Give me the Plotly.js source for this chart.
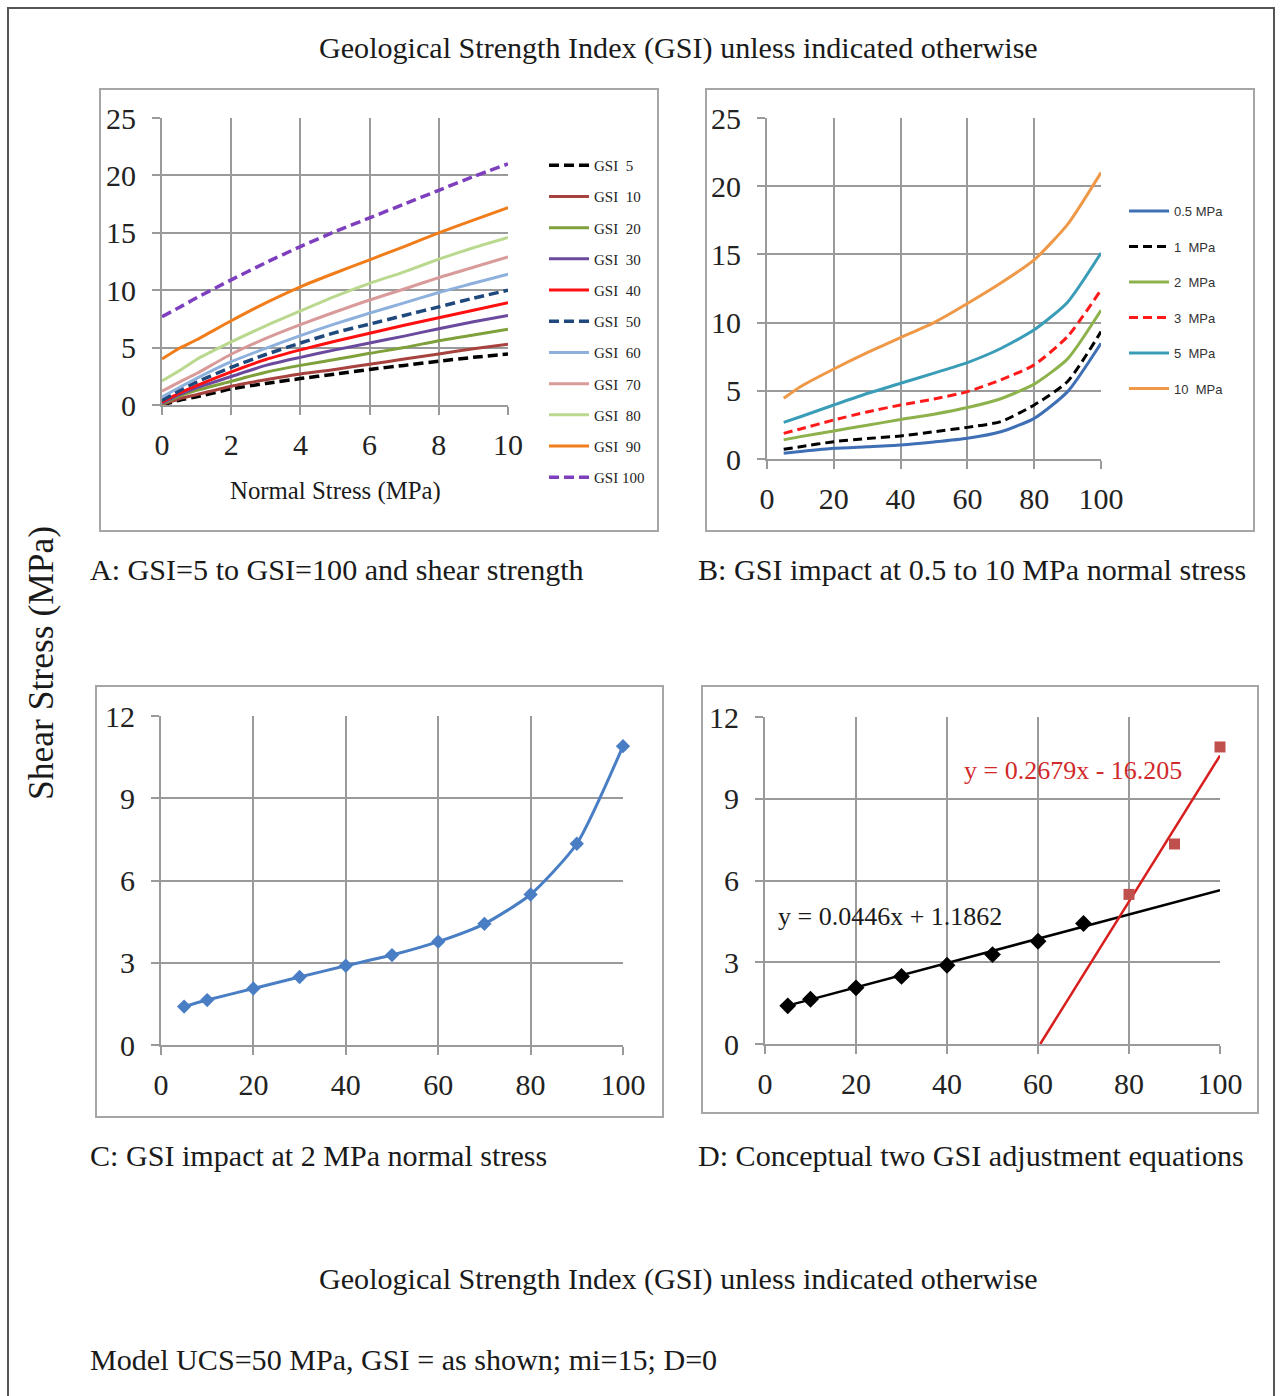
<!DOCTYPE html>
<html>
<head>
<meta charset="utf-8">
<script src="https://cdn.plot.ly/plotly-3.0.1.min.js"></script>
<style>
  html, body { margin: 0; padding: 0; background: #fff; overflow: hidden; width: 1280px; height: 1396px; }
  #chart { width: 1280px; height: 1396px; display: block; }
</style>
</head>
<body>
<div id="chart"></div>
<script>
// ---------- Panel A: shear stress vs normal stress for each GSI ----------
const normalStress = [0, 0.5, 1, 2, 3, 4, 5, 6, 7, 8, 9, 10];
const gsiLabels = ['GSI  5', 'GSI  10', 'GSI  20', 'GSI  30', 'GSI  40', 'GSI  50',
                   'GSI  60', 'GSI  70', 'GSI  80', 'GSI  90', 'GSI 100'];
const tauGSI5   = [0.0, 0.42, 0.71, 1.40, 1.88, 2.30, 2.69, 3.10, 3.45, 3.82, 4.15, 4.45];
const tauGSI10  = [0.03, 0.55, 0.90, 1.64, 2.20, 2.70, 3.10, 3.55, 4.00, 4.45, 4.90, 5.30];
const tauGSI20  = [0.08, 0.78, 1.27, 2.06, 2.86, 3.45, 3.96, 4.50, 5.00, 5.60, 6.10, 6.60];
const tauGSI30  = [0.15, 0.90, 1.50, 2.48, 3.45, 4.15, 4.80, 5.40, 6.00, 6.65, 7.25, 7.80];
const tauGSI40  = [0.25, 1.03, 1.69, 2.89, 3.96, 4.80, 5.55, 6.25, 6.95, 7.60, 8.25, 8.90];
const tauGSI50  = [0.40, 1.25, 2.00, 3.28, 4.40, 5.40, 6.30, 7.05, 7.80, 8.55, 9.30, 10.0];
const tauGSI60  = [0.70, 1.52, 2.32, 3.77, 4.94, 6.05, 7.07, 8.00, 8.90, 9.80, 10.6, 11.4];
const tauGSI70  = [1.20, 2.00, 2.74, 4.42, 5.80, 7.00, 8.10, 9.15, 10.1, 11.1, 12.0, 12.9];
const tauGSI80  = [2.10, 2.98, 3.96, 5.49, 6.90, 8.20, 9.47, 10.6, 11.6, 12.7, 13.7, 14.6];
const tauGSI90  = [4.00, 4.94, 5.68, 7.34, 8.90, 10.3, 11.5, 12.65, 13.8, 15.0, 16.1, 17.2];
const tauGSI100 = [7.70, 8.49, 9.34, 10.9, 12.4, 13.8, 15.1, 16.3, 17.5, 18.7, 19.9, 21.0];

// ---------- Panel B / C: shear stress vs GSI for each normal stress ----------
const gsiValues = [5, 10, 20, 30, 40, 50, 60, 70, 80, 90, 100];
const stressLabels = ['0.5 MPa', '1  MPa', '2  MPa', '3  MPa', '5  MPa', '10  MPa'];
const tau05MPa = [0.42, 0.55, 0.78, 0.90, 1.03, 1.25, 1.52, 2.00, 2.98, 4.94, 8.49];
const tau1MPa  = [0.71, 0.90, 1.27, 1.50, 1.69, 2.00, 2.32, 2.74, 3.96, 5.68, 9.34];
const tau2MPa  = [1.40, 1.64, 2.06, 2.48, 2.89, 3.28, 3.77, 4.42, 5.49, 7.34, 10.9];
const tau3MPa  = [1.88, 2.20, 2.86, 3.45, 3.96, 4.40, 4.94, 5.80, 6.90, 8.98, 12.4];
const tau5MPa  = [2.69, 3.10, 3.96, 4.80, 5.55, 6.30, 7.07, 8.10, 9.47, 11.5, 15.1];
const tau10MPa = [4.45, 5.30, 6.60, 7.80, 8.90, 10.0, 11.4, 12.9, 14.6, 17.2, 21.0];

// ---------- Panel D: two linear fits ----------
const gsiLow  = [5, 10, 20, 30, 40, 50, 60, 70];
const tauLow  = [1.40, 1.64, 2.06, 2.48, 2.89, 3.28, 3.77, 4.42];
const gsiHigh = [80, 90, 100];
const tauHigh = [5.49, 7.34, 10.9];
const lowFit  = { slope: 0.0446, intercept: 1.1862, from: 5, to: 100 };
const highFit = { slope: 0.2679, intercept: -16.205, from: 60.49, to: 100 };

// ---------- Layout helpers ----------
const W = 1280, H = 1396;
const px = v => v / W;
const py = v => 1 - v / H;
const SERIF = 'Liberation Serif, Times New Roman, serif';
const GRID = '#9a9a9a';

function axis(range, dtick, domain, anchor, extra) {
  return Object.assign({
    range: range, dtick: dtick, tick0: 0, domain: domain, anchor: anchor,
    showgrid: true, gridcolor: GRID, gridwidth: 2,
    showline: true, linecolor: GRID, linewidth: 2,
    zeroline: false, ticks: 'outside', ticklen: 8, tickcolor: GRID, tickwidth: 2,
    ticklabelstandoff: 10,
    tickfont: { family: SERIF, size: 30, color: '#222' },
    fixedrange: true, automargin: false
  }, extra || {});
}
const xExtra = { ticklabelstandoff: 4 };

const traces = [];
const aSeries = [tauGSI5, tauGSI10, tauGSI20, tauGSI30, tauGSI40, tauGSI50,
                 tauGSI60, tauGSI70, tauGSI80, tauGSI90, tauGSI100];
const aColors = ['#000000', '#A8423E', '#7FA13C', '#6B4A9E', '#FF1010', '#1F497D',
                 '#8DB0DC', '#D99A9A', '#BAD98F', '#F07D1A', '#7E3FBF'];
const aDash = [true, false, false, false, false, true, false, false, false, false, true];
aSeries.forEach((ys, i) => {
  traces.push({
    type: 'scatter', mode: 'lines', x: normalStress, y: ys, name: gsiLabels[i],
    xaxis: 'x', yaxis: 'y', legend: 'legend', legendgroup: 'a' + i,
    line: { color: aColors[i], width: aDash[i] ? 3.5 : 3, dash: aDash[i] ? '10px,5px' : 'solid',
            shape: 'spline', smoothing: 0.6 }
  });
});

const bSeries = [tau05MPa, tau1MPa, tau2MPa, tau3MPa, tau5MPa, tau10MPa];
const bColors = ['#3F6FB5', '#000000', '#8DB24C', '#FF1A1A', '#3A9DB8', '#EE9848'];
const bDash = [false, true, false, true, false, false];
bSeries.forEach((ys, i) => {
  traces.push({
    type: 'scatter', mode: 'lines', x: gsiValues, y: ys, name: stressLabels[i],
    xaxis: 'x2', yaxis: 'y2', legend: 'legend2', legendgroup: 'b' + i,
    line: { color: bColors[i], width: 3, dash: bDash[i] ? '9px,5px' : 'solid',
            shape: 'spline', smoothing: 0.6 }
  });
});

traces.push({
  type: 'scatter', mode: 'lines+markers', x: gsiValues, y: tau2MPa, name: '2 MPa',
  xaxis: 'x3', yaxis: 'y3', showlegend: false, cliponaxis: false,
  line: { color: '#4A7EC4', width: 3, shape: 'spline', smoothing: 0.6 },
  marker: { symbol: 'diamond', size: 11, color: '#4A7EC4' }
});

traces.push({
  type: 'scatter', mode: 'lines', name: 'Linear fit (GSI 5-70)',
  x: [lowFit.from, lowFit.to],
  y: [lowFit.slope * lowFit.from + lowFit.intercept, lowFit.slope * lowFit.to + lowFit.intercept],
  xaxis: 'x4', yaxis: 'y4', showlegend: false, line: { color: '#000', width: 2.5 }
});
traces.push({
  type: 'scatter', mode: 'lines', name: 'Linear fit (GSI 80-100)',
  x: [highFit.from, highFit.to],
  y: [highFit.slope * highFit.from + highFit.intercept, highFit.slope * highFit.to + highFit.intercept],
  xaxis: 'x4', yaxis: 'y4', showlegend: false, line: { color: '#D91E1E', width: 2.5 }
});
traces.push({
  type: 'scatter', mode: 'markers', x: gsiLow, y: tauLow, name: 'GSI 5-70',
  xaxis: 'x4', yaxis: 'y4', showlegend: false, cliponaxis: false,
  marker: { symbol: 'diamond', size: 13, color: '#000' }
});
traces.push({
  type: 'scatter', mode: 'markers', x: gsiHigh, y: tauHigh, name: 'GSI 80-100',
  xaxis: 'x4', yaxis: 'y4', showlegend: false, cliponaxis: false,
  marker: { symbol: 'square', size: 11, color: '#C0504D' }
});

function box(x0, y0, x1, y1, color, width) {
  return { type: 'rect', xref: 'paper', yref: 'paper', x0: px(x0), x1: px(x1), y0: py(y1), y1: py(y0),
           line: { color: color, width: width }, fillcolor: 'rgba(0,0,0,0)', layer: 'below' };
}
function text(t, x, y, opts) {
  return Object.assign({ text: t, xref: 'paper', yref: 'paper', x: px(x), y: py(y),
    showarrow: false, xanchor: 'left', yanchor: 'middle',
    font: { family: SERIF, size: 30.1, color: '#1a1a1a' } }, opts || {});
}

const layout = {
  width: W, height: H, margin: { l: 0, r: 0, t: 0, b: 0, autoexpand: false }, autosize: false,
  paper_bgcolor: '#fff', plot_bgcolor: '#fff',
  showlegend: true,
  xaxis:  axis([0, 10], 2, [px(162), px(508)], 'y', xExtra),
  yaxis:  axis([0, 25], 5, [py(405), py(118)], 'x'),
  xaxis2: axis([0, 100], 20, [px(767), px(1101)], 'y2', xExtra),
  yaxis2: axis([0, 25], 5, [py(459), py(118)], 'x2'),
  xaxis3: axis([0, 100], 20, [px(161), px(623)], 'y3', xExtra),
  yaxis3: axis([0, 12], 3, [py(1045), py(716)], 'x3'),
  xaxis4: axis([0, 100], 20, [px(765), px(1220)], 'y4', xExtra),
  yaxis4: axis([0, 12], 3, [py(1044), py(717)], 'x4'),
  legend: {
    x: px(544), y: py(149), xanchor: 'left', yanchor: 'top',
    font: { family: SERIF, size: 15, color: '#222' }, itemwidth: 40, tracegroupgap: 8.7,
    bgcolor: 'rgba(0,0,0,0)', borderwidth: 0, traceorder: 'grouped'
  },
  legend2: {
    x: px(1124), y: py(196), xanchor: 'left', yanchor: 'top',
    font: { family: 'Liberation Sans, Arial, sans-serif', size: 13, color: '#333' },
    itemwidth: 40, tracegroupgap: 15.6,
    bgcolor: 'rgba(0,0,0,0)', borderwidth: 0, traceorder: 'grouped'
  },
  shapes: [
    box(8, 8, 1274, 1400, '#555', 2),
    box(100, 89, 658, 531, '#a6a6a6', 2),
    box(706, 89, 1254, 531, '#a6a6a6', 2),
    box(96, 686, 663, 1117, '#a6a6a6', 2),
    box(702, 686, 1258, 1113, '#a6a6a6', 2)
  ],
  annotations: [
    text('Geological Strength Index (GSI) unless indicated otherwise', 678, 48, { xanchor: 'center' }),
    text('Normal Stress (MPa)', 335, 491, { xanchor: 'center',
      font: { family: SERIF, size: 24.8, color: '#1a1a1a' } }),
    text('A: GSI=5 to GSI=100 and shear strength', 88, 570),
    text('B: GSI impact at 0.5 to 10 MPa normal stress', 696, 570),
    text('C: GSI impact at 2 MPa normal stress', 88, 1156),
    text('D: Conceptual two GSI adjustment equations', 696, 1156),
    text('Geological Strength Index (GSI) unless indicated otherwise', 678, 1279, { xanchor: 'center' }),
    text('Model UCS=50 MPa, GSI = as shown; mi=15; D=0', 88, 1360),
    text('Shear Stress (MPa)', 41, 663, { xanchor: 'center', textangle: -90,
      font: { family: SERIF, size: 35.5, color: '#1a1a1a' } }),
    text('y = 0.2679x - 16.205', 1073, 770, { xanchor: 'center',
      font: { family: SERIF, size: 26, color: '#D02A2A' } }),
    text('y = 0.0446x + 1.1862', 890, 916, { xanchor: 'center',
      font: { family: SERIF, size: 26, color: '#1a1a1a' } })
  ]
};

Plotly.newPlot('chart', traces, layout, { staticPlot: true, displayModeBar: false });
</script>
</body>
</html>
